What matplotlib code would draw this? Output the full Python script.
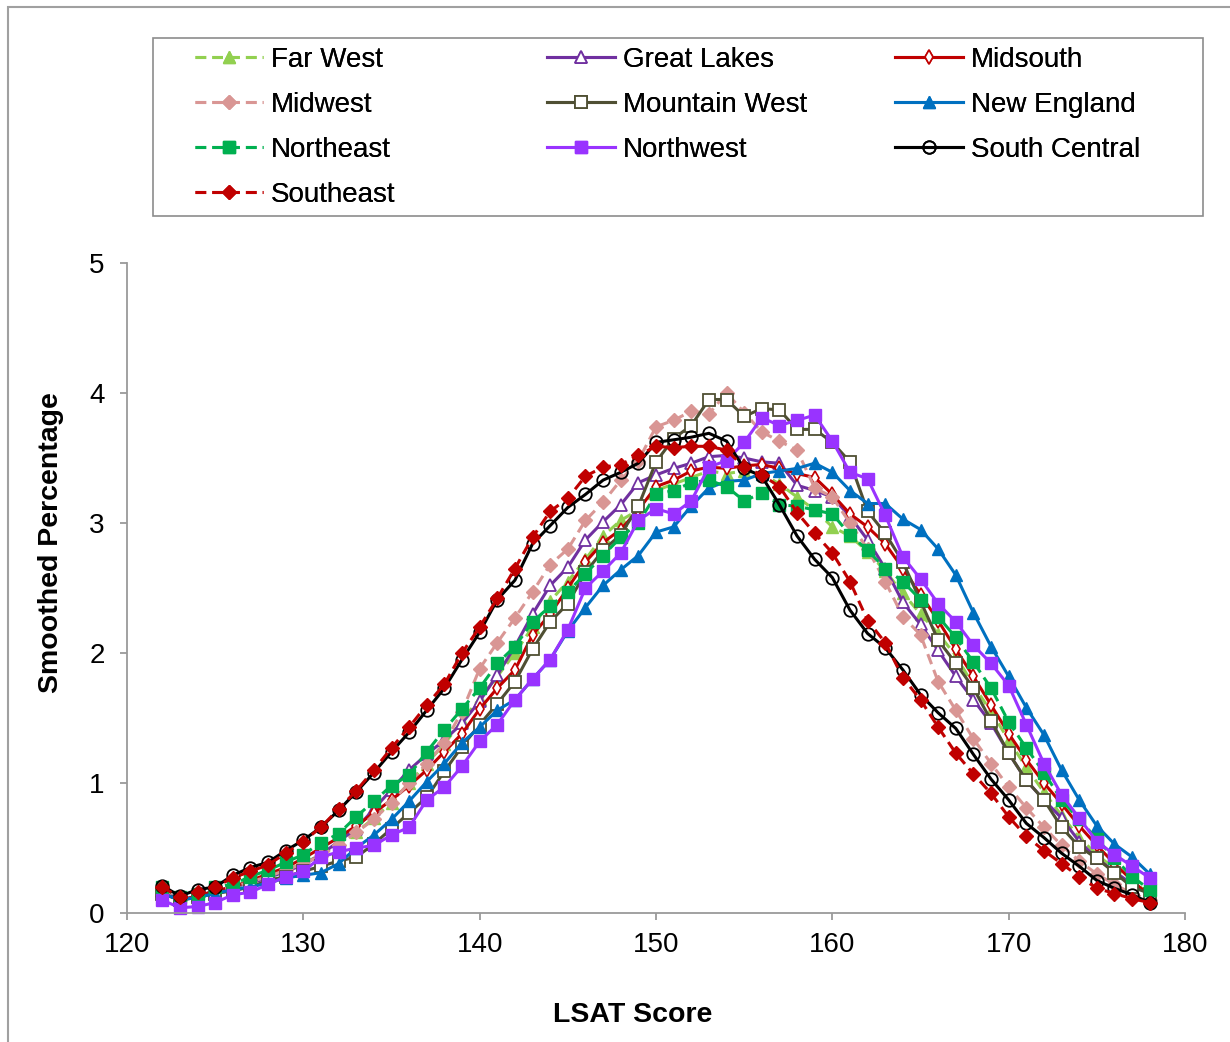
import matplotlib
matplotlib.use("Agg")
import matplotlib.pyplot as plt
from matplotlib.patches import Rectangle
import numpy as np

plt.rcParams['font.family'] = ['Liberation Sans', 'DejaVu Sans']

scores = list(range(122, 179))

far_west = [0.17, 0.10, 0.13, 0.17, 0.20, 0.24, 0.28, 0.33, 0.38, 0.45, 0.53, 0.62, 0.73, 0.85,
            1.00, 1.15, 1.30, 1.48, 1.65, 1.82, 2.00, 2.20, 2.40, 2.55, 2.72, 2.90, 3.02, 3.10,
            3.25, 3.30, 3.35, 3.40, 3.38, 3.40, 3.38, 3.30, 3.20, 3.10, 2.97, 2.90, 2.78, 2.63,
            2.46, 2.30, 2.15, 1.98, 1.75, 1.55, 1.33, 1.12, 0.93, 0.75, 0.58, 0.45, 0.34, 0.24, 0.15]
great_lakes = [0.17, 0.10, 0.13, 0.17, 0.20, 0.23, 0.27, 0.32, 0.37, 0.45, 0.55, 0.65, 0.80, 0.95,
               1.10, 1.22, 1.33, 1.46, 1.63, 1.83, 2.05, 2.30, 2.52, 2.66, 2.87, 3.01, 3.14, 3.31,
               3.37, 3.42, 3.46, 3.51, 3.52, 3.50, 3.47, 3.46, 3.29, 3.25, 3.20, 3.05, 2.87, 2.65,
               2.39, 2.22, 2.02, 1.82, 1.64, 1.46, 1.23, 1.02, 0.87, 0.73, 0.55, 0.42, 0.32, 0.22, 0.15]
midsouth = [0.15, 0.10, 0.13, 0.17, 0.20, 0.25, 0.30, 0.35, 0.42, 0.50, 0.58, 0.67, 0.77, 0.87,
            0.98, 1.10, 1.24, 1.38, 1.57, 1.73, 1.87, 2.14, 2.30, 2.50, 2.70, 2.85, 2.95, 3.10,
            3.28, 3.33, 3.40, 3.43, 3.42, 3.44, 3.45, 3.42, 3.38, 3.35, 3.22, 3.07, 2.97, 2.84,
            2.65, 2.45, 2.25, 2.03, 1.82, 1.60, 1.38, 1.18, 1.00, 0.84, 0.67, 0.52, 0.38, 0.25, 0.13]
midwest = [0.18, 0.10, 0.13, 0.17, 0.20, 0.24, 0.28, 0.33, 0.38, 0.44, 0.52, 0.62, 0.72, 0.85,
           1.00, 1.15, 1.31, 1.55, 1.88, 2.08, 2.27, 2.47, 2.68, 2.80, 3.02, 3.16, 3.33, 3.48,
           3.74, 3.79, 3.86, 3.84, 4.00, 3.85, 3.70, 3.63, 3.56, 3.27, 3.20, 3.00, 2.80, 2.55,
           2.28, 2.14, 1.78, 1.56, 1.34, 1.15, 0.97, 0.81, 0.66, 0.52, 0.40, 0.30, 0.22, 0.15, 0.10]
mountain_west = [0.15, 0.10, 0.12, 0.15, 0.17, 0.20, 0.25, 0.28, 0.32, 0.36, 0.40, 0.43, 0.53,
                 0.65, 0.77, 0.89, 1.09, 1.28, 1.45, 1.61, 1.78, 2.03, 2.24, 2.38, 2.62, 2.79,
                 2.91, 3.13, 3.47, 3.65, 3.75, 3.95, 3.95, 3.82, 3.88, 3.87, 3.72, 3.72, 3.62,
                 3.47, 3.09, 2.92, 2.70, 2.40, 2.10, 1.92, 1.73, 1.48, 1.23, 1.02, 0.87, 0.66,
                 0.51, 0.42, 0.31, 0.20, 0.15]
new_england = [0.15, 0.10, 0.12, 0.15, 0.18, 0.20, 0.23, 0.27, 0.29, 0.31, 0.38, 0.50, 0.60, 0.72,
               0.86, 1.01, 1.15, 1.31, 1.43, 1.56, 1.64, 1.80, 1.95, 2.17, 2.35, 2.52, 2.64, 2.75,
               2.93, 2.97, 3.13, 3.27, 3.32, 3.33, 3.38, 3.40, 3.42, 3.46, 3.39, 3.25, 3.15, 3.15,
               3.03, 2.95, 2.80, 2.60, 2.31, 2.05, 1.82, 1.58, 1.37, 1.10, 0.87, 0.67, 0.53, 0.43, 0.30]
northeast = [0.20, 0.12, 0.15, 0.20, 0.22, 0.28, 0.33, 0.39, 0.45, 0.54, 0.61, 0.74, 0.86, 0.98,
             1.06, 1.24, 1.41, 1.57, 1.73, 1.92, 2.05, 2.24, 2.36, 2.47, 2.61, 2.75, 2.89, 3.00,
             3.22, 3.25, 3.31, 3.33, 3.28, 3.17, 3.23, 3.14, 3.13, 3.10, 3.07, 2.91, 2.79, 2.65,
             2.55, 2.41, 2.28, 2.12, 1.93, 1.73, 1.47, 1.27, 1.08, 0.87, 0.72, 0.57, 0.42, 0.28, 0.18]
northwest = [0.10, 0.04, 0.05, 0.08, 0.14, 0.16, 0.22, 0.28, 0.32, 0.43, 0.47, 0.50, 0.52, 0.60,
             0.66, 0.87, 0.97, 1.13, 1.32, 1.45, 1.64, 1.80, 1.95, 2.18, 2.50, 2.63, 2.77, 3.02,
             3.11, 3.07, 3.17, 3.43, 3.48, 3.62, 3.81, 3.75, 3.79, 3.83, 3.63, 3.39, 3.34, 3.06,
             2.74, 2.57, 2.38, 2.24, 2.06, 1.92, 1.75, 1.45, 1.15, 0.91, 0.73, 0.55, 0.45, 0.36, 0.27]
south_central = [0.21, 0.13, 0.18, 0.20, 0.29, 0.35, 0.39, 0.48, 0.56, 0.66, 0.79, 0.93, 1.08,
                 1.24, 1.39, 1.56, 1.73, 1.95, 2.16, 2.41, 2.56, 2.84, 2.98, 3.12, 3.22, 3.33,
                 3.39, 3.46, 3.62, 3.64, 3.66, 3.69, 3.63, 3.42, 3.36, 3.14, 2.90, 2.72, 2.58,
                 2.33, 2.15, 2.04, 1.87, 1.68, 1.54, 1.42, 1.22, 1.03, 0.87, 0.69, 0.58, 0.46,
                 0.36, 0.25, 0.19, 0.14, 0.08]
southeast = [0.20, 0.12, 0.16, 0.20, 0.27, 0.32, 0.37, 0.46, 0.55, 0.66, 0.80, 0.94, 1.10, 1.27,
             1.43, 1.60, 1.76, 2.00, 2.20, 2.42, 2.65, 2.89, 3.09, 3.19, 3.36, 3.43, 3.45, 3.52,
             3.59, 3.58, 3.59, 3.59, 3.56, 3.43, 3.37, 3.28, 3.08, 2.92, 2.77, 2.55, 2.25, 2.08,
             1.81, 1.64, 1.43, 1.23, 1.07, 0.92, 0.74, 0.59, 0.48, 0.38, 0.28, 0.19, 0.15, 0.11, 0.08]

names = ["Far West", "Great Lakes", "Midsouth", "Midwest", "Mountain West", "New England",
         "Northeast", "Northwest", "South Central", "Southeast"]
series = [far_west, great_lakes, midsouth, midwest, mountain_west, new_england,
          northeast, northwest, south_central, southeast]

dash = (0, (3.5, 2.0))
styles = {
    "Far West": dict(color="#92D050", ls=dash, marker="^", ms=9, mfc="#92D050", mec="#92D050"),
    "Great Lakes": dict(color="#7030A0", ls="-", marker="^", ms=9, mfc="white", mec="#7030A0", mew=1.3),
    "Midsouth": dict(color="#C00000", ls="-", marker="d", ms=7, mfc="white", mec="#C00000", mew=1.2),
    "Midwest": dict(color="#D99694", ls=dash, marker="D", ms=7, mfc="#D99694", mec="#D99694"),
    "Mountain West": dict(color="#4F4F33", ls="-", marker="s", ms=9, mfc="white", mec="#4F4F33", mew=1.3),
    "New England": dict(color="#0070C0", ls="-", marker="^", ms=9, mfc="#0070C0", mec="#0070C0"),
    "Northeast": dict(color="#00B050", ls=dash, marker="s", ms=9, mfc="#00B050", mec="#00B050"),
    "Northwest": dict(color="#9933FF", ls="-", marker="s", ms=9, mfc="#9933FF", mec="#9933FF"),
    "South Central": dict(color="#000000", ls="-", marker="o", ms=9, mfc="none", mec="#000000", mew=1.3),
    "Southeast": dict(color="#C00000", ls=dash, marker="D", ms=7, mfc="#C00000", mec="#C00000"),
}

W, H = 1230, 1042
fig = plt.figure(figsize=(W / 100, H / 100), dpi=100)
fig.patches.append(Rectangle((8 / W, -0.01), 1.02, 1 - 7 / H + 0.01, transform=fig.transFigure,
                             fill=False, edgecolor="#a0a0a0", linewidth=1.5))
ax = fig.add_axes([127 / W, 1 - 913 / H, (1185 - 127) / W, (913 - 263) / H])

handles = {}
for name, vals in zip(names, series):
    st = styles[name]
    (h,) = ax.plot(scores, vals, linestyle=st["ls"], color=st["color"], linewidth=2.2,
                   marker=st["marker"], markersize=st["ms"], markerfacecolor=st["mfc"],
                   markeredgecolor=st["mec"], markeredgewidth=st.get("mew", 1.0), label=name,
                   clip_on=False)
    handles[name] = h

ax.set_xlim(120, 180)
ax.set_ylim(0, 5)
ax.set_xticks(range(120, 181, 10))
ax.set_yticks(range(0, 6))
for s in ["top", "right"]:
    ax.spines[s].set_visible(False)
for s in ["left", "bottom"]:
    ax.spines[s].set_color("#9a9a9a")
    ax.spines[s].set_linewidth(1.3)
ax.tick_params(axis="both", colors="#9a9a9a", labelcolor="black", labelsize=20, length=5, width=1.3)
ax.tick_params(axis="x", pad=9)
ax.tick_params(axis="y", pad=11)
ax.set_xlabel("LSAT Score", fontsize=20.5, fontweight="bold")
ax.set_ylabel("Smoothed Percentage", fontsize=20.5, fontweight="bold")
ax.xaxis.set_label_coords((633 - 127) / 1058, (913 - 1002) / 650)
ax.yaxis.set_label_coords((64 - 127) / 1058, (913 - 543) / 650)

# legend frame
fig.patches.append(Rectangle((153 / W, 1 - 216 / H), (1203 - 153) / W, (216 - 38) / H,
                             transform=fig.transFigure, fill=False, edgecolor="#8c8c8c",
                             linewidth=1.2))
columns = [["Far West", "Midwest", "Northeast", "Southeast"],
           ["Great Lakes", "Mountain West", "Northwest"],
           ["Midsouth", "New England", "South Central"]]
col_x = [195, 547, 895]
for names_col, cx in zip(columns, col_x):
    leg = fig.legend([handles[n] for n in names_col], names_col, loc="upper left",
                     bbox_to_anchor=(cx / W, 1 - 47 / H), fontsize=20, frameon=False,
                     handlelength=2.45, handletextpad=0.28, labelspacing=0.68,
                     borderpad=0, borderaxespad=0)
    fig.add_artist(leg)

fig.savefig("out.png", dpi=100)
